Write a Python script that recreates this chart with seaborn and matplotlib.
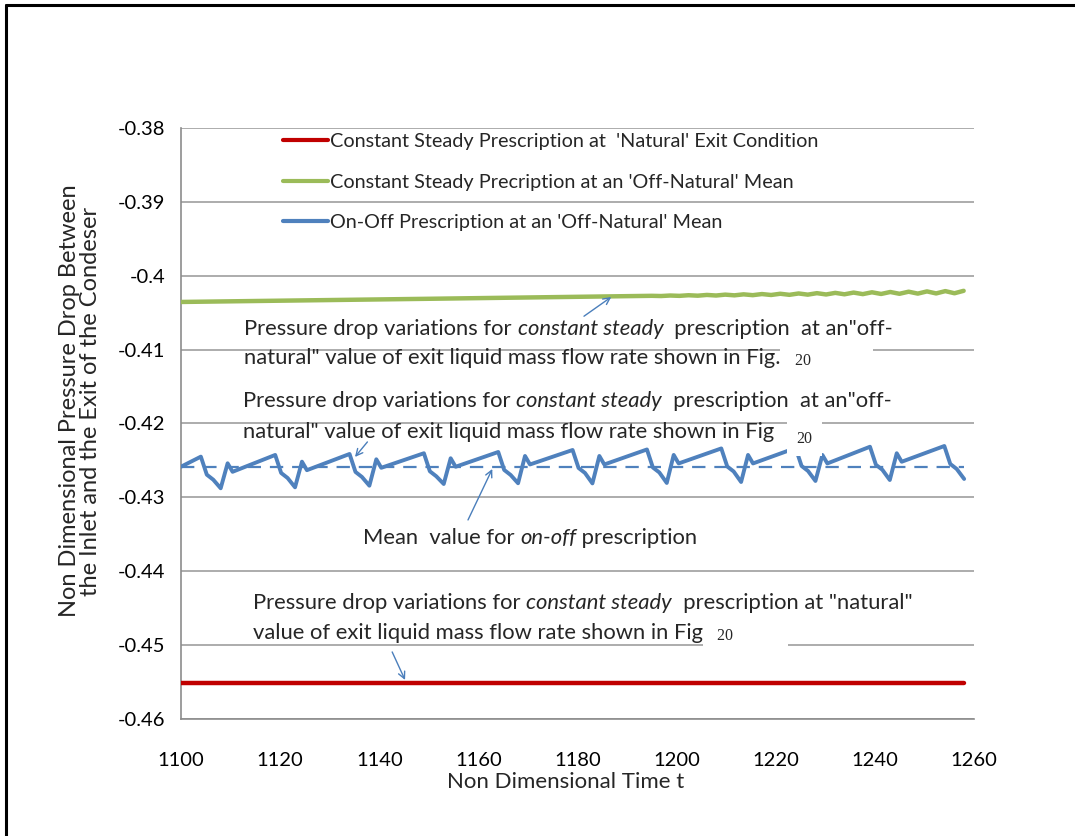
import matplotlib
matplotlib.use("Agg")
import matplotlib.pyplot as plt
import seaborn as sns
from matplotlib.lines import Line2D

# ---- data ----------------------------------------------------------------
# constant steady prescription at the 'natural' exit condition
red_t = [1100, 1258]
red_v = [-0.4551, -0.4551]

# constant steady prescription at an 'off-natural' mean
green_t = [1100, 1150, 1195.0, 1196.85, 1198.7, 1200.55, 1202.4, 1204.25, 1206.1,
           1207.95, 1209.8, 1211.65, 1213.5, 1215.35, 1217.2, 1219.05, 1220.9,
           1222.75, 1224.6, 1226.45, 1228.3, 1230.15, 1232.0, 1233.85, 1235.7,
           1237.55, 1239.4, 1241.25, 1243.1, 1244.95, 1246.8, 1248.65, 1250.5,
           1252.35, 1254.2, 1256.05, 1257.9]
green_v = [-0.40355, -0.40312, -0.402719, -0.402747, -0.402679, -0.402724,
           -0.402640, -0.402701, -0.402599, -0.402677, -0.402559, -0.402654,
           -0.402520, -0.402630, -0.402480, -0.402606, -0.402440, -0.402584,
           -0.402400, -0.402560, -0.402360, -0.402536, -0.402320, -0.402513,
           -0.402281, -0.402489, -0.402241, -0.402466, -0.402200, -0.402443,
           -0.402161, -0.402419, -0.402121, -0.402395, -0.402081, -0.402372,
           -0.402041]

# on-off prescription at an 'off-natural' mean
blue_t = [1100,
          1104, 1105.2, 1106.5, 1108.0, 1109.4, 1110.4,
          1119, 1120.2, 1121.5, 1123.0, 1124.4, 1125.4,
          1134, 1135.2, 1136.5, 1138.0, 1139.4, 1140.4,
          1149, 1150.2, 1151.5, 1153.0, 1154.4, 1155.4,
          1164, 1165.2, 1166.5, 1168.0, 1169.4, 1170.4,
          1179, 1180.2, 1181.5, 1183.0, 1184.4, 1185.4,
          1194, 1195.2, 1196.5, 1198.0, 1199.4, 1200.4,
          1209, 1210.2, 1211.5, 1213.0, 1214.4, 1215.4,
          1224, 1225.2, 1226.5, 1228.0, 1229.4, 1230.4,
          1239, 1240.2, 1241.5, 1243.0, 1244.4, 1245.4,
          1254, 1255.2, 1256.5, 1258]
blue_v = [-0.42585,
          -0.42449, -0.42693, -0.42761, -0.42877, -0.42539, -0.42654,
          -0.42426, -0.42670, -0.42738, -0.42864, -0.42517, -0.42632,
          -0.42413, -0.42656, -0.42724, -0.42842, -0.42485, -0.42600,
          -0.42403, -0.42647, -0.42715, -0.42819, -0.42471, -0.42586,
          -0.42386, -0.42629, -0.42697, -0.42809, -0.42440, -0.42555,
          -0.42359, -0.42602, -0.42670, -0.42811, -0.42440, -0.42555,
          -0.42352, -0.42596, -0.42663, -0.42805, -0.42426, -0.42541,
          -0.42338, -0.42582, -0.42650, -0.42792, -0.42426, -0.42541,
          -0.42332, -0.42575, -0.42643, -0.42778, -0.42426, -0.42541,
          -0.42315, -0.42559, -0.42627, -0.42765, -0.42403, -0.42518,
          -0.42305, -0.42548, -0.42616, -0.42751]

# mean of the on-off signal
mean_t = [1100, 1258]
mean_v = [-0.42585, -0.42585]

x_ticks = [1100, 1120, 1140, 1160, 1180, 1200, 1220, 1240, 1260]
y_ticks = [-0.38, -0.39, -0.40, -0.41, -0.42, -0.43, -0.44, -0.45, -0.46]
y_tick_labels = ["-0.38", "-0.39", "-0.4", "-0.41", "-0.42", "-0.43", "-0.44",
                 "-0.45", "-0.46"]

legend_labels = ["Constant Steady Prescription at  'Natural' Exit Condition",
                 "Constant Steady Precription at an 'Off-Natural' Mean",
                 "On-Off Prescription at an 'Off-Natural' Mean"]

# ---- style ---------------------------------------------------------------
sns.set_theme(style="white")
plt.rcParams["font.family"] = ["Lato", "DejaVu Sans"]

RED = "#c00000"
GREEN = "#9bbb59"
BLUE = "#4f81bd"
ARROW = "#4a7ebb"
GRID = "#a6a6a6"
NOTE_SIZE = 15.8

fig = plt.figure(figsize=(10.75, 8.36), dpi=100)
ax = fig.add_axes([0.1684, 0.14, 0.7377, 0.7069])

sns.lineplot(x=red_t, y=red_v, ax=ax, color=RED, lw=3.2, label=legend_labels[0],
             zorder=3)
sns.lineplot(x=green_t, y=green_v, ax=ax, color=GREEN, lw=3.2,
             label=legend_labels[1], zorder=3)
sns.lineplot(x=blue_t, y=blue_v, ax=ax, color=BLUE, lw=2.8,
             label=legend_labels[2], zorder=3)
sns.lineplot(x=mean_t, y=mean_v, ax=ax, color=BLUE, lw=1.6, zorder=2)
ax.lines[-1].set_dashes([6, 4])

ax.set_xlim(1100, 1260)
ax.set_ylim(-0.46, -0.38)
ax.set_xticks(x_ticks)
ax.set_xticklabels([str(v) for v in x_ticks], fontsize=14.5)
ax.set_yticks(y_ticks)
ax.set_yticklabels(y_tick_labels, fontsize=14.5)

ax.yaxis.grid(True, color=GRID, lw=1.3, zorder=0)
ax.set_axisbelow(True)
for side in ("top", "right"):
    ax.spines[side].set_visible(False)
for side in ("left", "bottom"):
    ax.spines[side].set_color("#8c8c8c")
    ax.spines[side].set_linewidth(1.2)
ax.tick_params(axis="both", direction="out", color="#8c8c8c", width=1.2,
               length=5.5, pad=6, labelcolor="black")
ax.tick_params(axis="x", pad=18)

ax.set_xlabel("Non Dimensional Time t", fontsize=16)
ax.set_ylabel("Non Dimensional Pressure Drop Between\nthe Inlet and the Exit of the Condeser",
              fontsize=17, linespacing=1.0)
ax.xaxis.set_label_coords(0.4855, -0.0905)
ax.yaxis.set_label_coords(-0.101, 0.538)

leg = ax.legend(loc="upper left", bbox_to_anchor=(0.128, 0.992), frameon=False,
                fontsize=14.3, handlelength=2.27, handletextpad=0.1,
                labelspacing=1.2, borderpad=0, borderaxespad=0)
for h in leg.get_lines():
    h.set_linewidth(3)


def rich_text(x, y, pieces, size=NOTE_SIZE):
    """Write a line made of normal/italic pieces, one after another."""
    s, st = pieces[0]
    t = ax.text(x, y, s, fontstyle=st, fontsize=size, va="center", ha="left",
                zorder=7)
    for s, st in pieces[1:]:
        t = ax.annotate(s, xy=(1, 0), xycoords=t, va="bottom", ha="left",
                        fontstyle=st, fontsize=size, zorder=7)
    return t


def fig_ref(x, y, txt="20", trail="", pad=0.9):
    ax.text(x, y, txt + trail, fontsize=11.5, family="Liberation Serif",
            va="center", ha="left", zorder=6,
            bbox=dict(boxstyle=f"square,pad={pad}", fc="white", ec="none"))


arrow = dict(arrowstyle="->", color=ARROW, lw=1.0, shrinkA=0, shrinkB=0)

# off-natural steady annotation
rich_text(1112.8, -0.40718, [("Pressure drop variations for ", "normal"),
                             ("constant steady", "italic"),
                             ("  prescription  at an\"off-", "normal")])
rich_text(1112.8, -0.41110, [("natural\" value of exit liquid mass flow rate shown in Fig.",
                              "normal")])
fig_ref(1223.8, -0.41150, trail="            ")
ax.annotate("", xy=(1186.8, -0.40288), xytext=(1181.3, -0.40548),
            arrowprops=arrow, zorder=5)

# on-off annotation
rich_text(1112.5, -0.41695, [("Pressure drop variations for ", "normal"),
                             ("constant steady", "italic"),
                             ("  prescription  at an\"off-", "normal")])
rich_text(1112.5, -0.42115, [("natural\" value of exit liquid mass flow rate shown in Fig",
                              "normal")])
fig_ref(1224.2, -0.42205, pad=0.6)
ax.annotate("", xy=(1135.1, -0.42453), xytext=(1137.6, -0.42250),
            arrowprops=arrow, zorder=5)

# mean annotation
rich_text(1136.7, -0.43555, [("Mean  value for ", "normal"), ("on-off", "italic"),
                             (" prescription", "normal")])
ax.annotate("", xy=(1162.8, -0.42616), xytext=(1157.9, -0.43306),
            arrowprops=arrow, zorder=5)

# natural steady annotation
rich_text(1114.5, -0.44430, [("Pressure drop variations for ", "normal"),
                             ("constant steady", "italic"),
                             ("  prescription at \"natural\"", "normal")])
rich_text(1114.5, -0.44836, [("value of exit liquid mass flow rate shown in Fig", "normal")])
fig_ref(1208.2, -0.44880, trail="          ")
ax.annotate("", xy=(1145.2, -0.45472), xytext=(1142.6, -0.45093),
            arrowprops=arrow, zorder=5)

# outer frame (top and left edges)
fig.add_artist(Line2D([0.0055, 1.0], [0.9935, 0.9935], color="black", lw=2.2,
                      transform=fig.transFigure))
fig.add_artist(Line2D([0.0055, 0.0055], [0.0, 0.9935], color="black", lw=2.2,
                      transform=fig.transFigure))

fig.savefig("out.png", dpi=100)
